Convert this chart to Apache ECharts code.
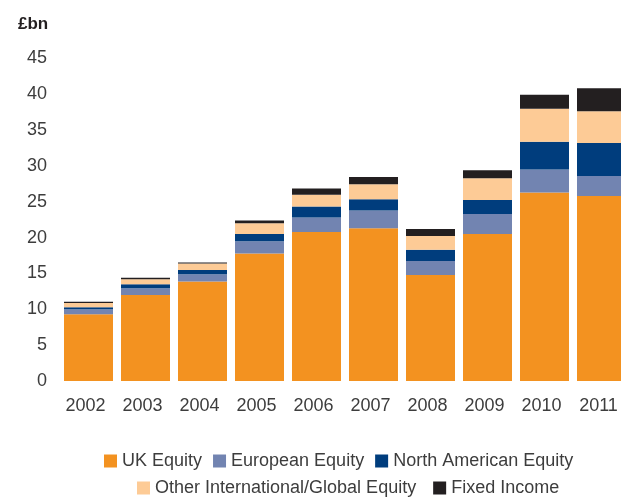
<!DOCTYPE html>
<html>
<head>
<meta charset="utf-8">
<script src="https://cdn.jsdelivr.net/npm/echarts@6/dist/echarts.min.js"></script>
<style>
  html, body { margin: 0; padding: 0; background: #fff; overflow: hidden; }
  /* the last bar runs past the right edge of the page, so the canvas is wider than the view */
  #chart { width: 640px; height: 497px; }
</style>
</head>
<body>
<div id="chart"></div>
<script>
// Assets by type, £bn, stacked per year
const years = ['2002', '2003', '2004', '2005', '2006', '2007', '2008', '2009', '2010', '2011'];
const ukEquity       = [9.3, 12.0, 13.9, 17.8, 20.8, 21.3, 14.8, 20.5, 26.3, 25.8];
const europeanEquity = [0.7, 0.95, 1.0, 1.7, 2.0, 2.5, 1.95, 2.8, 3.2, 2.8];
const northAmerican  = [0.3, 0.55, 0.6, 1.0, 1.55, 1.55, 1.55, 1.95, 3.9, 4.6];
const otherIntl      = [0.6, 0.7, 0.9, 1.5, 1.65, 2.1, 1.95, 3.05, 4.6, 4.45];
const fixedIncome    = [0.15, 0.2, 0.15, 0.4, 0.85, 1.0, 0.95, 1.1, 1.95, 3.2];
const yTicks = [0, 5, 10, 15, 20, 25, 30, 35, 40, 45];

const names = ['UK Equity', 'European Equity', 'North American Equity',
               'Other International/Global Equity', 'Fixed Income'];
const colors = ['#F39220', '#7284B1', '#003D7D', '#FDCB96', '#231F20'];
const values = [ukEquity, europeanEquity, northAmerican, otherIntl, fixedIncome];

const font = '"Liberation Sans", Arial, Helvetica, sans-serif';
const textColor = '#3d3d3d';

const chart = echarts.init(document.getElementById('chart'), null, { renderer: 'canvas' });

chart.setOption({
  animation: false,
  color: colors,
  textStyle: { fontFamily: font },
  title: {
    text: '£bn',
    left: 13,
    top: 11,
    textStyle: { fontFamily: font, fontSize: 17, fontWeight: 'bold', color: '#231F20' }
  },
  grid: { left: 60, top: 58.5, width: 570, height: 322.5 },
  legend: [
    {
      data: names.slice(0, 3),
      left: 99, top: 447,
      icon: 'rect', itemWidth: 13, itemHeight: 13, itemGap: 11,
      textStyle: { fontFamily: font, fontSize: 18, color: textColor }
    },
    {
      data: names.slice(3),
      left: 132, top: 474,
      icon: 'rect', itemWidth: 13, itemHeight: 13, itemGap: 17,
      textStyle: { fontFamily: font, fontSize: 18, color: textColor }
    }
  ],
  xAxis: {
    type: 'category',
    data: years,
    axisLine: { show: false },
    axisTick: { show: false },
    axisLabel: {
      margin: 16, fontSize: 18, color: textColor, fontFamily: font,
      padding: [0, 6, 0, 0]
    }
  },
  yAxis: {
    type: 'value',
    min: yTicks[0],
    max: yTicks[yTicks.length - 1],
    interval: yTicks[1] - yTicks[0],
    axisLine: { show: false },
    axisTick: { show: false },
    splitLine: { show: false },
    axisLabel: { margin: 13, fontSize: 18, color: textColor, fontFamily: font }
  },
  series: names.map((name, i) => ({
    name,
    type: 'bar',
    stack: 'total',
    barWidth: 49,
    data: values[i],
    itemStyle: { color: colors[i] }
  }))
});
</script>
</body>
</html>
